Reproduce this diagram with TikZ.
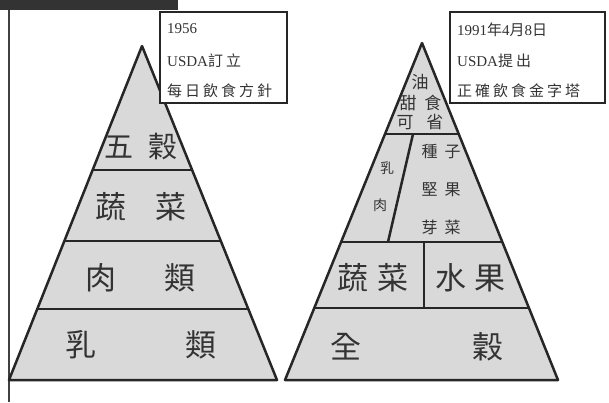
\documentclass[tikz,border=0pt]{standalone}
\usepackage{fontspec}
\setmainfont{Liberation Serif}
\newfontfamily\cjk{Noto Sans CJK TC}
\newfontfamily\cjknote[LetterSpace=20]{Noto Sans CJK TC}
\usetikzlibrary{calc}
\begin{document}
\begin{tikzpicture}[x=1pt,y=-1pt,
    tier/.style={draw=black!85,line width=2.5pt,fill=gray!30,line join=round},
    cut/.style={draw=black!85,line width=2.5pt},
    notebox/.style={draw=black!85,line width=2.5pt,fill=white},
    noteline/.style={anchor=west,inner sep=0pt,text=black!80,font=\fontsize{15}{15}\selectfont},
    big/.style={inner sep=0pt,text=black!80,font=\cjk\fontsize{31}{31}\selectfont},
    small/.style={inner sep=0pt,text=black!80,font=\cjk\fontsize{16}{16}\selectfont}]
  \useasboundingbox (0,0) rectangle (609,402);
  \fill[black!80] (0,0) rectangle (178,10);
  \draw[black!75,line width=1.5pt] (9,10) -- (9,402);

  % 1956 pyramid
  \coordinate (LA) at (142,46);
  \coordinate (LL) at (9,380);
  \coordinate (LR) at (277,380);
  \draw[tier] (LA) -- (LL) -- (LR) -- cycle;
  \foreach \t in {0.371,0.584,0.787}
    \draw[cut] ($(LA)!\t!(LL)$) -- ($(LA)!\t!(LR)$);
  \draw
    (141,147) node[big,font=\cjk\fontsize{29}{29}\selectfont] (grain){五\hspace{15pt}穀}
    (141,207) node[big] (veg){蔬\hspace{30pt}菜}
    (140.5,278) node[big] (meat){肉\hspace{49pt}類}
    (141,345) node[big] (milk){乳\hspace{90pt}類};

  % 1991 pyramid
  \coordinate (RA) at (422,43);
  \coordinate (RL) at (285,380);
  \coordinate (RR) at (558,380);
  \draw[tier] (RA) -- (RL) -- (RR) -- cycle;
  \foreach \t in {0.270,0.590,0.786}
    \draw[cut] ($(RA)!\t!(RL)$) -- ($(RA)!\t!(RR)$);
  \draw[cut] (424,242) -- (424,308);
  \draw[cut] (413,134) -- (388,242);
  \draw
    (420,82) node[small,font=\cjk\fontsize{17}{17}\selectfont] (oil){油}
    (420.5,103) node[small,font=\cjk\fontsize{17}{17}\selectfont] (sweet){甜\hspace{8pt}食}
    (420,122) node[small,font=\cjk\fontsize{17}{17}\selectfont] (skip){可\hspace{13pt}省}
    (387,168) node[small,font=\cjk\fontsize{14}{14}\selectfont] (dairy){乳}
    (380,205) node[small,font=\cjk\fontsize{14}{14}\selectfont] (flesh){肉}
    (441,152) node[small] (seed){種\hspace{7pt}子}
    (441,190) node[small] (nut){堅\hspace{7pt}果}
    (441,227) node[small] (sprout){芽\hspace{7pt}菜}
    (373,278) node[big] (greens){蔬\hspace{9pt}菜}
    (470.5,278) node[big] (fruit){水\hspace{9pt}果}
    (416.5,347) node[big] (whole){全\hspace{111pt}穀};

  % notes
  \draw[notebox] (160,12) rectangle (287,103);
  \draw
    (167,29) node[noteline] (year1){1956}
    (167,61) node[noteline] (who1){USDA{\cjknote 訂立}}
    (167,91) node[noteline] (what1){\cjknote 每日飲食方針};
  \draw[notebox] (450,12) rectangle (605,103);
  \draw
    (457,30) node[noteline] (year2){1991{\cjknote 年}4{\cjknote 月}8{\cjknote 日}}
    (457,61) node[noteline] (who2){USDA{\cjknote 提出}}
    (457,91) node[noteline] (what2){\cjknote 正確飲食金字塔};
\end{tikzpicture}
\end{document}
